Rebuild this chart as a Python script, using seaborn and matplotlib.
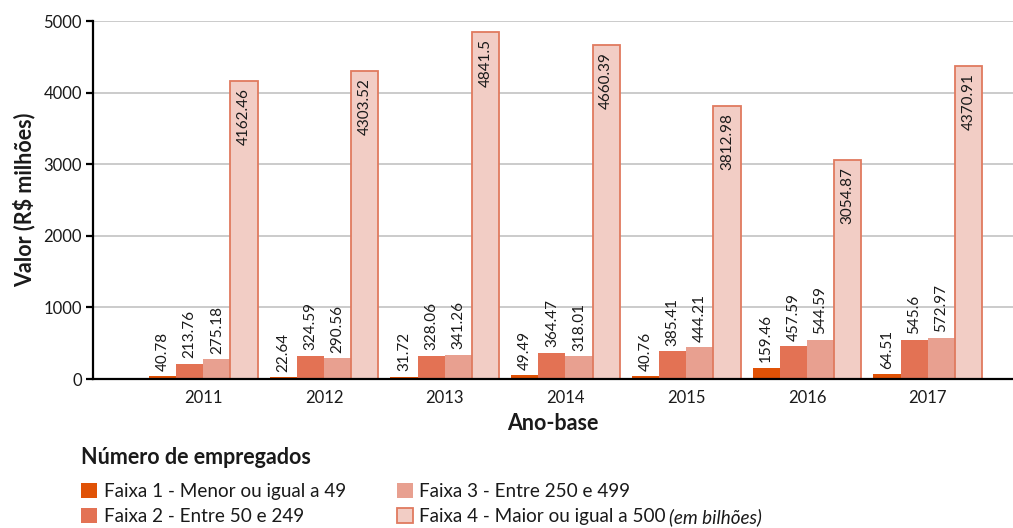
import matplotlib
matplotlib.use("Agg")
import matplotlib.pyplot as plt
from matplotlib.patches import Patch
from matplotlib.text import Annotation
import seaborn as sns
import pandas as pd

anos = ["2011", "2012", "2013", "2014", "2015", "2016", "2017"]
faixas = [
    "Faixa 1 - Menor ou igual a 49",
    "Faixa 2 - Entre 50 e 249",
    "Faixa 3 - Entre 250 e 499",
    "Faixa 4 - Maior ou igual a 500",
]
faixa1 = [40.78, 22.64, 31.72, 49.49, 40.76, 159.46, 64.51]
faixa2 = [213.76, 324.59, 328.06, 364.47, 385.41, 457.59, 545.6]
faixa3 = [275.18, 290.56, 341.26, 318.01, 444.21, 544.59, 572.97]
faixa4 = [4162.46, 4303.52, 4841.5, 4660.39, 3812.98, 3054.87, 4370.91]
cores = ["#E05206", "#E37254", "#E8A090", "#F2CDC5"]
borda_f4 = "#E07A5F"

sns.set_theme(style="white")
plt.rcParams["font.family"] = ["Lato", "DejaVu Sans"]

series = [faixa1, faixa2, faixa3, faixa4]
df = pd.DataFrame(
    [(a, f, v) for f, vals in zip(faixas, series) for a, v in zip(anos, vals)],
    columns=["Ano", "Faixa", "Valor"],
)

fig = plt.figure(figsize=(10.13, 5.28), dpi=100)
ax = fig.add_axes([93 / 1013, 1 - 379 / 528, 1 - 93 / 1013, (379 - 21) / 528])

sns.barplot(
    data=df, x="Ano", y="Valor", hue="Faixa", order=anos, hue_order=faixas,
    palette=cores, saturation=1, width=0.9, linewidth=0, legend=False, ax=ax,
)

# outline the largest class
for bar in ax.containers[3]:
    bar.set_edgecolor(borda_f4)
    bar.set_linewidth(1.3)

# value labels: above the small bars, inside the top of the large ones
for ci, (cont, vals) in enumerate(zip(ax.containers, series)):
    for bar, v in zip(cont, vals):
        xc = bar.get_x() + bar.get_width() / 2
        if ci < 3:
            ax.annotate(f"{v:g}", (xc, v), xytext=(0, 4), textcoords="offset points",
                        rotation=90, ha="center", va="bottom", fontsize=11, color="#1a1a1a")
        else:
            ax.annotate(f"{v:g}", (xc, v), xytext=(0, -5), textcoords="offset points",
                        rotation=90, ha="center", va="top", fontsize=11, color="#1a1a1a")

ax.set_ylim(0, 5000)
ax.set_xlim(-0.5 - 50 / 121, 6.5 + 25 / 121)
ax.set_yticks([0, 1000, 2000, 3000, 4000, 5000])
ax.yaxis.grid(True, color="#BDBDBD", linewidth=1.1)
ax.set_axisbelow(True)
for s in ["top", "right"]:
    ax.spines[s].set_visible(False)
for s in ["left", "bottom"]:
    ax.spines[s].set_color("black")
    ax.spines[s].set_linewidth(1.6)

ax.set_xticks(range(len(anos)))
ax.set_xticks([i - 0.5 for i in range(len(anos) + 1)], minor=True)
ax.tick_params(axis="x", which="major", length=0, labelsize=12, pad=8, colors="#1a1a1a")
ax.tick_params(axis="x", which="minor", length=5, width=1.6, color="black", direction="out")
ax.tick_params(axis="y", which="major", length=5, width=1.6, direction="out",
               left=True, labelsize=12, pad=3, labelcolor="#1a1a1a", color="black")

ax.set_xlabel("Ano-base", fontsize=15.5, fontweight="bold", color="#1a1a1a", labelpad=5)
ax.set_ylabel("Valor (R$ milhões)", fontsize=15.5, fontweight="bold", color="#1a1a1a", labelpad=6)

# legend: bold title on its own line, entries in two columns below
fig.text(81 / 1013, 1 - 457 / 528, "Número de empregados", fontsize=15.5, fontweight="bold",
         color="#1a1a1a", ha="left", va="center")
handles = [Patch(facecolor=c, edgecolor=(borda_f4 if i == 3 else c), linewidth=(1.3 if i == 3 else 0))
           for i, c in enumerate(cores)]
leg = fig.legend(handles, faixas, ncol=2, loc="upper left", bbox_to_anchor=(81 / 1013, 1 - 483 / 528),
                 frameon=False, fontsize=13.6, borderaxespad=0, borderpad=0,
                 handlelength=0.85, handleheight=0.85, handletextpad=0.35, columnspacing=2.7,
                 labelspacing=0.42)
for t in leg.get_texts():
    t.set_color("#1a1a1a")

# italic unit note right after the last legend entry (drawn after the legend)
nota = Annotation("(em bilhões)", xy=(1, 0), xycoords=leg.get_texts()[3], xytext=(2.5, -0.5),
                  textcoords="offset points", ha="left", va="bottom", fontsize=13.6,
                  fontstyle="italic", color="#1a1a1a", annotation_clip=False)
nota.set_zorder(10)
fig.add_artist(nota)

fig.savefig("out.png", dpi=100)
